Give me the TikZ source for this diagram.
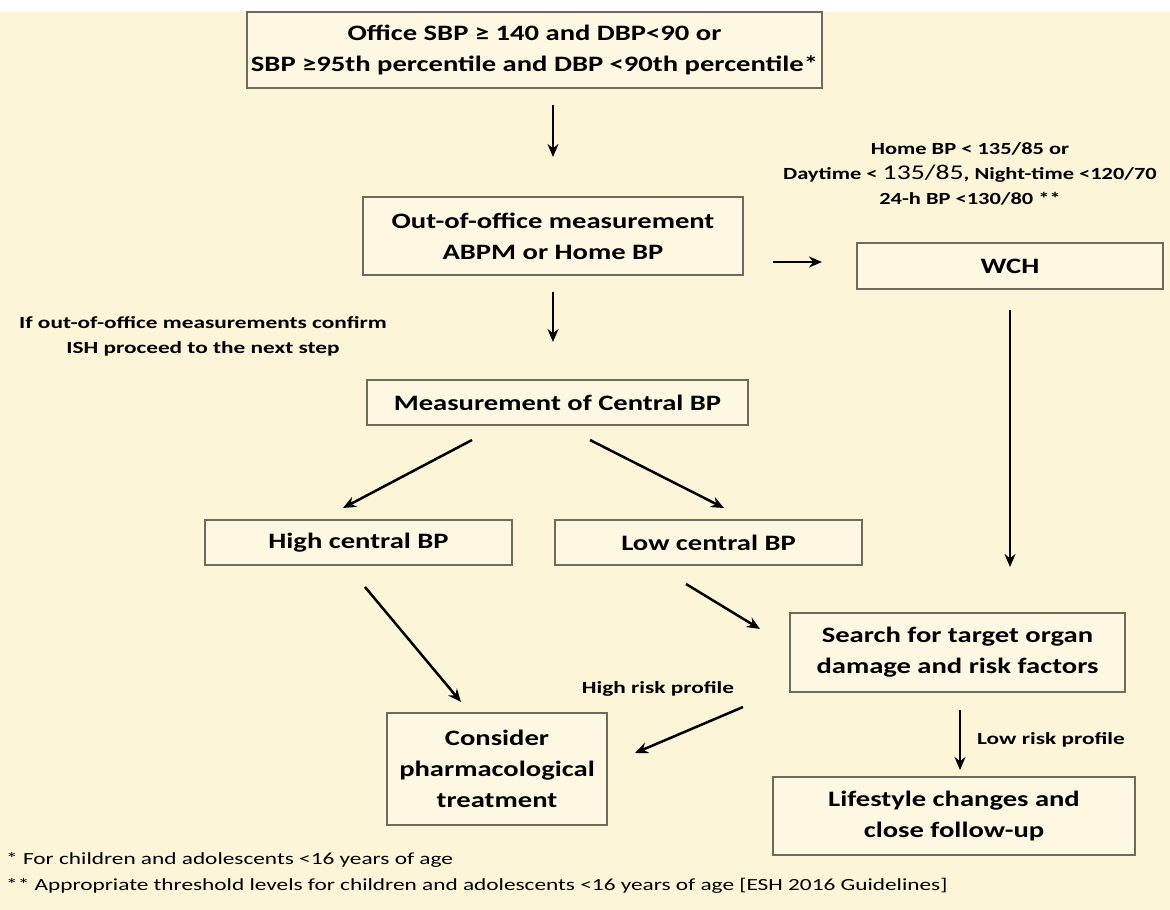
\documentclass[tikz,border=0pt]{standalone}
\usepackage{fontspec}
\setmainfont{Carlito}
\newfontfamily\bxfont{Carlito}[FakeStretch=1.30]
\newfontfamily\lbfont{Carlito}[FakeStretch=1.37]
\newfontfamily\whfont{Carlito}[FakeStretch=1.32]
\usetikzlibrary{arrows.meta}
\definecolor{bg}{HTML}{FDF5D8}
\definecolor{bx}{HTML}{FEF8E2}
\definecolor{edge}{HTML}{6E6A5E}
\tikzset{
  box/.style={draw=edge, line width=1.2pt, fill=bx, inner sep=0pt, align=center, font=\bxfont\fontsize{22}{31}\selectfont\bfseries},
  lbl/.style={align=center, font=\lbfont\fontsize{17}{25}\selectfont\bfseries, inner sep=0pt},
  foot/.style={align=left, font=\lbfont\fontsize{17}{25}\selectfont, inner sep=0pt, anchor=west},
  arr/.style={-{Stealth[length=13pt,width=11pt]}, line width=2.5pt, black}
}
\begin{document}
\begin{tikzpicture}[x=1pt,y=-1pt]
\useasboundingbox (0,0) rectangle (1170,910);
\fill[white] (0,0) rectangle (1170,12);
\fill[bg] (0,12) rectangle (1170,910);
% boxes
\node[box, minimum width=575pt, minimum height=76pt] (top) at (534.5,50) {Office SBP ≥ 140 and DBP<90 or\\SBP ≥95th percentile and DBP <90th percentile*};
\node[box, minimum width=380pt, minimum height=78pt] (oom) at (553,236) {Out-of-office measurement\\ABPM or Home BP};
\node[box, minimum width=306pt, minimum height=46pt] (wch) at (1010,266) {WCH};
\node[box, minimum width=381pt, minimum height=45pt] (cbp) at (557.5,402.5) {Measurement of Central BP};
\node[box, minimum width=307pt, minimum height=45pt] (high) at (358.5,542.5) {High central BP};
\node[box, minimum width=307pt, minimum height=45pt] (low) at (708.5,542.5) {Low central BP};
\node[box, minimum width=335pt, minimum height=79pt] (search) at (957.5,652.5) {Search for target organ\\damage and risk factors};
\node[box, minimum width=220pt, minimum height=112pt] (cons) at (497,769) {Consider\\pharmacological\\treatment};
\node[box, minimum width=362pt, minimum height=78pt] (life) at (954,816) {Lifestyle changes and\\close follow-up};
% labels
\node[lbl, font=\whfont\fontsize{17}{25}\selectfont\bfseries] (wchlbl) at (970,174) {Home BP < 135/85 or\\Daytime < {\fontsize{21}{25}\selectfont\mdseries 135/85}, Night-time <120/70\\24-h BP <130/80 **};
\node[lbl] (iflbl) at (203,336) {If out-of-office measurements confirm\\ISH proceed to the next step};
\node[lbl] (hrlbl) at (658,689) {High risk profile};
\node[lbl, anchor=west] (lrlbl) at (977,740) {Low risk profile};
\node[foot] (f1) at (6,860) {* For children and adolescents <16 years of age};
\node[foot] (f2) at (6,886) {** Appropriate threshold levels for children and adolescents <16 years of age [ESH 2016 Guidelines]};
% arrows
\coordinate (a1s) at (553,105); \coordinate (a1e) at (553,157);
\draw[arr] (a1s) -- (a1e);
\coordinate (a2s) at (553,292); \coordinate (a2e) at (553,342);
\draw[arr] (a2s) -- (a2e);
\coordinate (a3s) at (773,262); \coordinate (a3e) at (822,262);
\draw[arr] (a3s) -- (a3e);
\coordinate (a4s) at (1010,310); \coordinate (a4e) at (1010,567);
\draw[arr] (a4s) -- (a4e);
\coordinate (a5s) at (472,440); \coordinate (a5e) at (343,508);
\draw[arr] (a5s) -- (a5e);
\coordinate (a6s) at (590,440); \coordinate (a6e) at (724,508);
\draw[arr] (a6s) -- (a6e);
\coordinate (a7s) at (365,587); \coordinate (a7e) at (461,702);
\draw[arr] (a7s) -- (a7e);
\coordinate (a8s) at (686,584); \coordinate (a8e) at (760,629);
\draw[arr] (a8s) -- (a8e);
\coordinate (a9s) at (743,707); \coordinate (a9e) at (635,753);
\draw[arr] (a9s) -- (a9e);
\coordinate (a10s) at (960,710); \coordinate (a10e) at (960,770);
\draw[arr] (a10s) -- (a10e);
\end{tikzpicture}
\end{document}
